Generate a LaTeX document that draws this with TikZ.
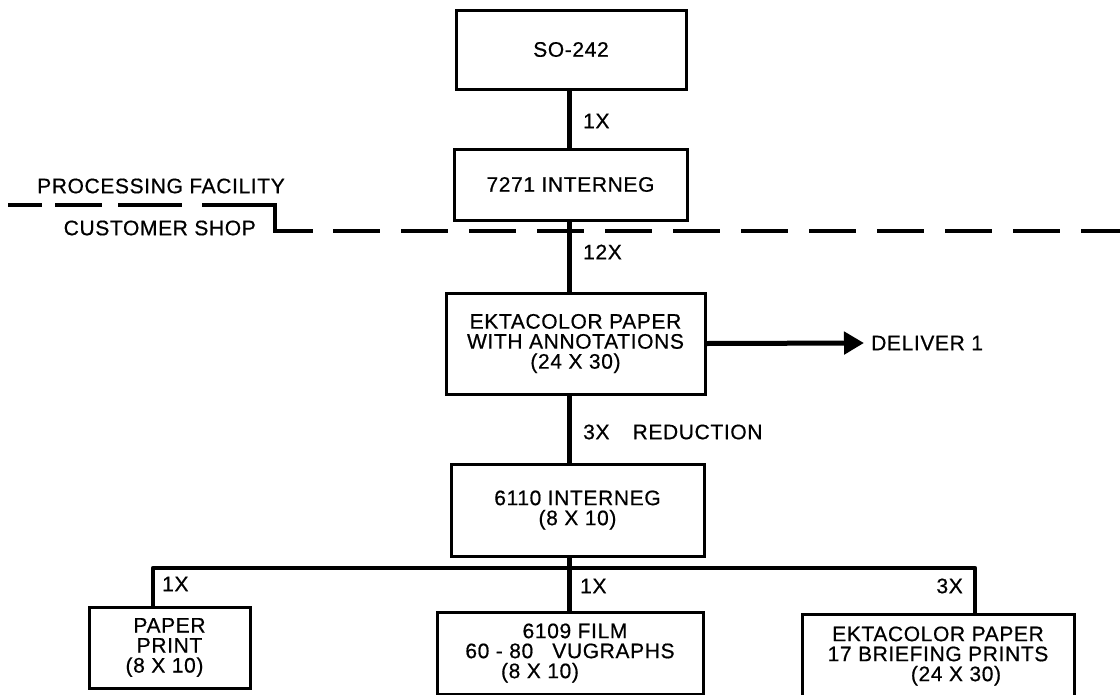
\documentclass[tikz,border=0pt]{standalone}
\usepackage{fontspec}
\setmainfont{Liberation Sans}[LetterSpace=3, FakeBold=0.6]
\usetikzlibrary{arrows.meta}
\newcommand\myfs{\fontsize{21}{20}\selectfont}
\begin{document}
\begin{tikzpicture}[x=1pt,y=-1pt,
  box/.style={draw, line width=3pt, align=center, inner sep=0pt, font=\myfs},
  conn/.style={line width=5pt},
  brch/.style={line width=4.5pt, line join=round},
  lbl/.style={anchor=west, inner sep=0pt, font=\myfs},
  dsh/.style={line width=3.5pt}]
\useasboundingbox (0,0) rectangle (1120,694);
\clip (0,0) rectangle (1120,694);

% boxes
\node[box, minimum width=230pt, minimum height=79pt] (so) at (571,49.5) {SO-242};
\node[box, minimum width=233pt, minimum height=71pt] (ni) at (570.5,184.5) {7271 INTERNEG};
\node[box, minimum width=259pt, minimum height=101pt] (ek) at (575.5,343.5)
  {EKTACOLOR PAPER\\WITH ANNOTATIONS\\(24 X 30)};
\node[box, minimum width=253pt, minimum height=92pt] (si) at (577.5,510)
  {6110 INTERNEG\\(8 X 10)};
\node[box, minimum width=161pt, minimum height=81pt] (pp) at (169.5,647.5)
  {PAPER\\PRINT\\(8 X 10)\hspace*{10pt}};
\node[box, minimum width=266pt, minimum height=82pt] (fm) at (570,653)
  {\hspace*{10pt}6109 FILM\\60 - 80\hspace{0.6em} VUGRAPHS\hspace*{22pt}\\(8 X 10)\hspace*{60pt}};
\node[box, minimum width=272pt, minimum height=84pt] (eb) at (938,656)
  {EKTACOLOR PAPER\\17 BRIEFING PRINTS\\\hspace*{36pt}(24 X 30)};

% region divider
\node[lbl] (pf) at (37,186) {PROCESSING FACILITY};
\node[lbl, anchor=east] (cs) at (256,228) {CUSTOMER SHOP};
\draw[dsh] (8,205) -- (42,205);
\draw[dsh] (55,205) -- (102,205);
\draw[dsh] (118,205) -- (182,205);
\draw[dsh] (202,205) -- (275,205) -- (275,231) -- (313,231);
\draw[dsh, dash pattern=on 47pt off 21pt] (333,231) -- (1120,231);

% vertical flow
\coordinate (mid) at (569,0);
\draw[conn] (so.south -| mid) -- (mid |- ni.north);
\draw[conn] (ni.south -| mid) -- (mid |- ek.north);
\draw[conn] (ek.south -| mid) -- (mid |- si.north);
\draw[conn] (si.south -| mid) -- (mid |- fm.north);

\node[lbl] (l1) at (583,121) {1X};
\node[lbl] (l12) at (583,252) {12X};
\node[lbl] (l3) at (583,432) {3X\hspace{1.1em}REDUCTION};

% deliver
\node[lbl] (dl) at (871,343) {DELIVER 1};
\draw[conn, -{Triangle[length=20pt,width=22pt]}] (ek.east) -- ([xshift=-7pt]dl.west);

% branches
\coordinate (bl) at (153,568);
\coordinate (brr) at (975,568);
\draw[brch] (bl |- pp.north) -- (bl) -- (brr) -- (brr |- eb.north);
\node[lbl] (b1) at (162,584) {1X};
\node[lbl] (b2) at (580,586) {1X};
\node[lbl, anchor=east] (b3) at (963,586) {3X};
\end{tikzpicture}
\end{document}
